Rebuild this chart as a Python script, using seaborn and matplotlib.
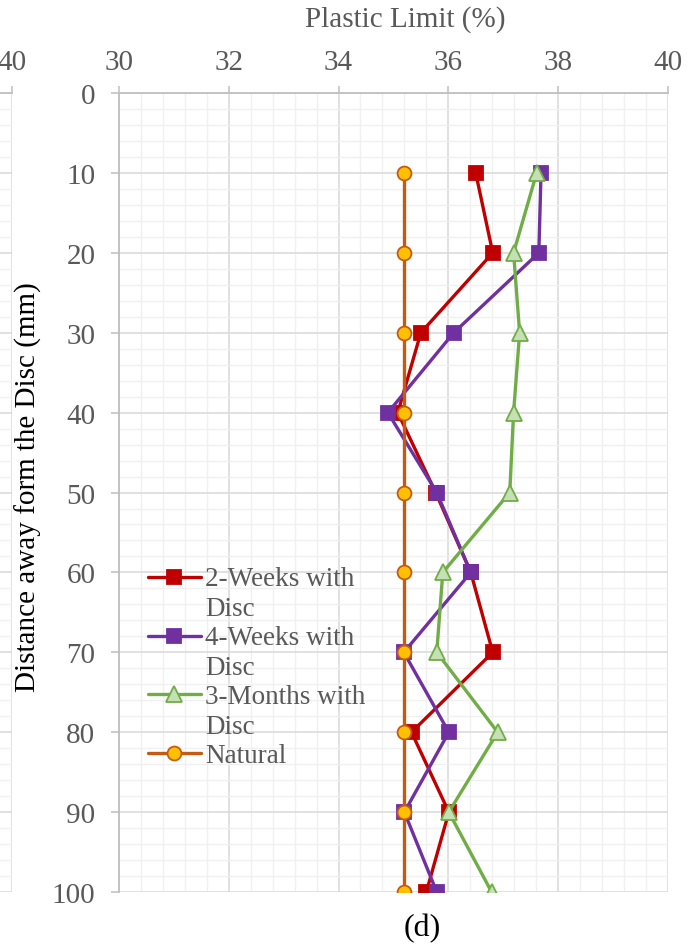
import matplotlib
matplotlib.use("Agg")
import matplotlib.pyplot as plt
from matplotlib.ticker import MultipleLocator
from matplotlib.offsetbox import HPacker
import numpy as np
import pandas as pd
import seaborn as sns

# Distance from the disc (mm)
distance = [10, 20, 30, 40, 50, 60, 70, 80, 90, 100]

# Plastic limit (%) for each exposure period
two_weeks = [36.50, 36.81, 35.50, 35.08, 35.77, 36.41, 36.81, 35.33, 36.01, 35.60]
four_weeks = [37.69, 37.65, 36.10, 34.90, 35.79, 36.41, 35.19, 36.01, 35.20, 35.79]
three_months = [37.61, 37.19, 37.30, 37.19, 37.12, 35.90, 35.79, 36.90, 36.01, 36.79]
natural = [35.20] * 10

series_labels = ["2-Weeks with\nDisc", "4-Weeks with\nDisc", "3-Months with\nDisc", "Natural"]
x_ticks = [30, 32, 34, 36, 38, 40]
y_ticks = [0, 10, 20, 30, 40, 50, 60, 70, 80, 90, 100]

sns.set_theme(style="white")
plt.rcParams["font.family"] = ["Liberation Serif", "DejaVu Serif"]

TICK_GREY = "#595959"
AXIS_GREY = "#BFBFBF"
MAJOR_GRID = "#D9D9D9"
MINOR_GRID = "#F0F0F0"
FS = 21

fig = plt.figure(figsize=(7.0, 9.45), dpi=100)


def style_axes(ax):
    ax.set_xlim(30, 40)
    ax.set_ylim(100, 0)
    ax.xaxis.set_major_locator(MultipleLocator(2))
    ax.xaxis.set_minor_locator(MultipleLocator(0.4))
    ax.yaxis.set_major_locator(MultipleLocator(10))
    ax.yaxis.set_minor_locator(MultipleLocator(2))
    ax.set_xticks(x_ticks)
    ax.set_yticks(y_ticks)
    ax.grid(which="minor", color=MINOR_GRID, linewidth=1.0, zorder=0)
    ax.grid(which="major", color=MAJOR_GRID, linewidth=1.1, zorder=0)
    ax.set_axisbelow(True)
    ax.xaxis.tick_top()
    ax.xaxis.set_label_position("top")
    for side in ["right", "bottom"]:
        ax.spines[side].set_visible(False)
    for side in ["left", "top"]:
        ax.spines[side].set_color(AXIS_GREY)
        ax.spines[side].set_linewidth(1.3)
    ax.tick_params(axis="both", which="major", direction="out", colors=AXIS_GREY,
                   labelcolor=TICK_GREY, labelsize=FS, width=1.1)
    ax.tick_params(axis="x", which="major", length=5, pad=8, top=True, bottom=False)
    ax.tick_params(axis="y", which="major", length=6, pad=11, left=True)
    ax.tick_params(which="minor", length=0)


# Neighbouring panel, only its right edge shows
ax_prev = fig.add_axes([-0.77, 0.055, 0.787, 0.8455])
style_axes(ax_prev)
ax_prev.set_yticklabels([])
ax_prev.tick_params(axis="y", left=False)

# Main panel
ax = fig.add_axes([0.170, 0.055, 0.784, 0.8455])
style_axes(ax)

styles = [
    dict(values=two_weeks, color="#C00000", marker="s", ms=10, mfc="#C00000", mec="#C00000"),
    dict(values=four_weeks, color="#7030A0", marker="s", ms=10, mfc="#7030A0", mec="#7030A0"),
    dict(values=three_months, color="#70AD47", marker="^", ms=11, mfc="#C5E0B4", mec="#70AD47"),
    dict(values=natural, color="#C55A11", marker="o", ms=10, mfc="#FFC000", mec="#C55A11"),
]

handles = []
for label, st in zip(series_labels, styles):
    df = pd.DataFrame({"pl": st["values"], "dist": distance})
    sns.lineplot(data=df, x="pl", y="dist", orient="y", sort=False, estimator=None,
                 ax=ax, color=st["color"], linewidth=2.4, marker=st["marker"],
                 markersize=st["ms"], markerfacecolor=st["mfc"],
                 markeredgecolor=st["mec"], markeredgewidth=1.3, label=label,
                 legend=False, zorder=3)
    handles.append(ax.lines[-1])

ax.set_xlabel("Plastic Limit (%)", fontsize=FS, color=TICK_GREY)
ax.xaxis.set_label_coords(0.521, 1.084)
ax.set_ylabel("Distance away form the Disc (mm)", fontsize=FS, color="black")
ax.yaxis.set_label_coords(-0.140, 0.508)

leg = ax.legend(handles, series_labels, loc="upper left",
                bbox_to_anchor=(0.053, 0.408), frameon=False, fontsize=19.5,
                handlelength=1.95, handletextpad=0.15, labelspacing=0.13,
                borderpad=0, borderaxespad=0, handleheight=1.0)
for txt in leg.get_texts():
    txt.set_color(TICK_GREY)
    txt.set_linespacing(1.28)
for hp in leg.findobj(HPacker):
    hp.align = "top"

fig.text(0.603, 0.017, "(d)", fontsize=23, color="black", ha="center", va="center")

fig.savefig("out.png", dpi=100)
